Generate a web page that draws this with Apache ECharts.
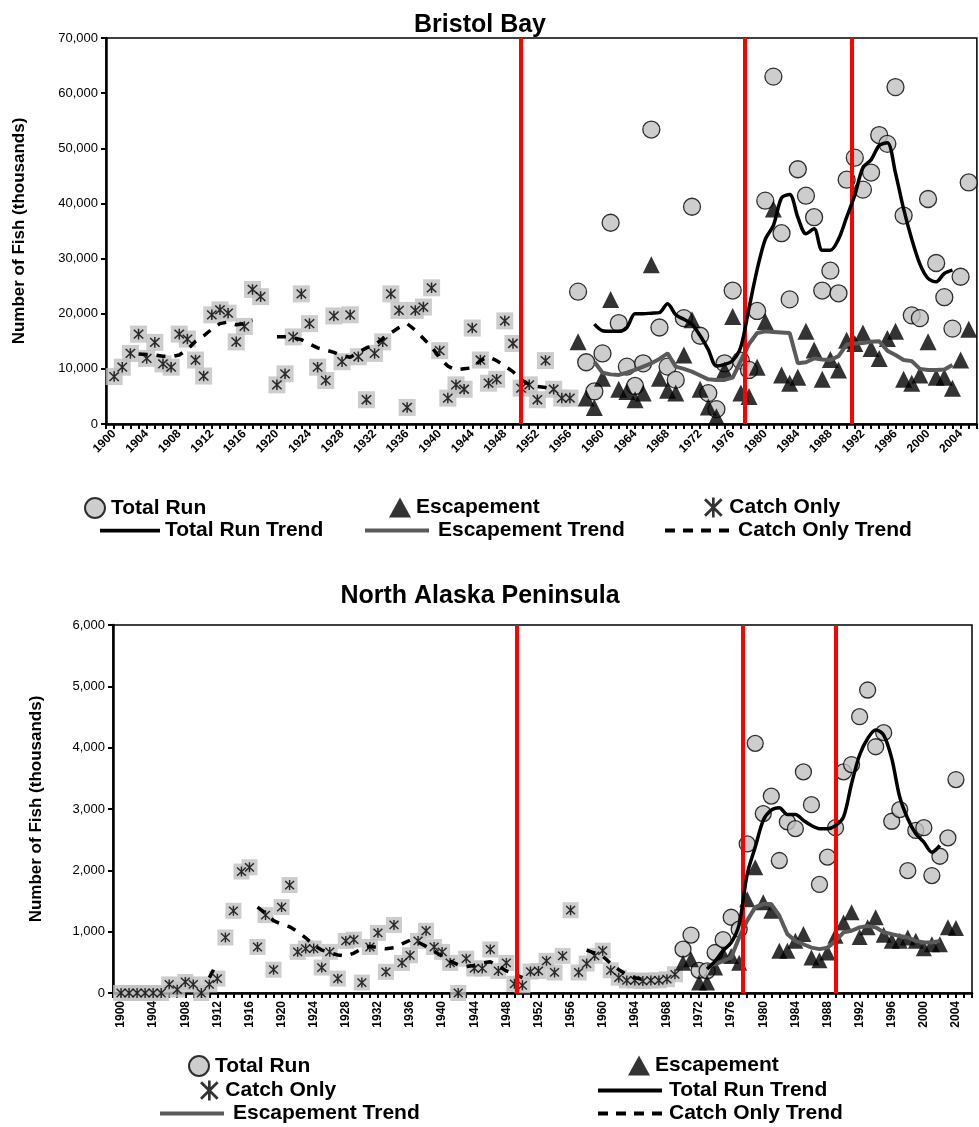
<!DOCTYPE html>
<html>
<head>
<meta charset="utf-8">
<script src="https://cdn.jsdelivr.net/npm/echarts@6/dist/echarts.min.js"></script>
<style>
  html, body { margin: 0; padding: 0; background: #fff; }
  #chart { width: 979px; height: 1127px; }
</style>
</head>
<body>
<div id="chart"></div>
<script>
// ---- Bristol Bay (thousands of fish) ----
// catch only, 1900..1956 (null = no value)
const bbCatch = [8600, 10300, 12800, 16300, 11900, 14800, 10900, 10300, 16300, 15400,
  11600, 8700, 19800, 20700, 20100, 14900, 17700, 24400, 23100, null,
  7100, 9100, 15800, 23600, 18200, 10300, 7900, 19600, 11300, 19800,
  12200, 4400, 12800, 14900, 23600, 20600, 3000, 20600, 21200, 24700,
  13300, 4700, 7100, 6300, 17400, 11600, 7400, 8100, 18700, 14600,
  6500, 7100, 4400, 11500, 6300, 4700, 4700]
// catch only trend, 1903..1954
const bbCatchTrend = [12700, 12600, 12500, 12300, 12200, 12500, 13500, 15000, 16000, 17200,
  18200, 18500, 18000, 18200, 18800, null, null, 15800, 15800, 15600,
  15300, 14500, 13800, 13400, 13000, 12400, 12100, 13000, 13800, 14300,
  15500, 16500, 17500, 18200, 17000, 15500, 14000, 12000, 10500, 9800,
  10000, 10200, 11500, 12200, 11500, 10500, 9500, 8000, 7200, 6800,
  6600, 6200]
// total run, 1957..2005
const bbTotal = [24000, 11200, 5900, 12800, 36500, 18300, 10400, 6900, 11000, 53400,
  17500, 10400, 8000, 19200, 39400, 16000, 5600, 2700, 11000, 24200,
  11500, 9800, 20500, 40500, 63000, 34600, 22600, 46200, 41400, 37500,
  24200, 27800, 23700, 44300, 48300, 42500, 45600, 52400, 50800, 61100,
  37800, 19700, 19200, 40800, 29200, 23000, 17300, 26700, 43800]
// escapement, 1957..2005
const bbEsc = [14900, 4700, 3000, 8300, 22600, 6300, 5900, 4400, 5600, 28900,
  8300, 6100, 5600, 12500, 18900, 6300, 3100, 1300, 9800, 19500,
  5600, 5000, 10300, 18600, 39000, 8900, 7400, 8500, 16800, 13400,
  8100, 11700, 9800, 15200, 14600, 16500, 13700, 11900, 15500, 16800,
  8100, 7400, 8900, 14900, 8500, 8500, 6500, 11600, 17200]
// trends, 1959..2003
const bbTotalTrend = [18100, 16900, 16800, 16800, 17500, 20000, 20000, 20100, 20200, 21800,
  19800, 19000, 18100, 16000, 13500, 10500, 10800, 11500, 14000, 21000,
  28000, 33500, 36000, 41000, 41600, 37500, 34500, 35400, 31500, 31500,
  33500, 37500, 41500, 46500, 47900, 50500, 51000, 45500, 39000, 33500,
  29000, 26400, 25800, 27300, 27900]
const bbEscTrend = [11300, 9300, 9000, 8900, 9300, 9800, 10400, 11000, 11800, 12800,
  10400, 10000, 9500, 8800, 8100, 8000, 8000, 8400, 11500, 14500,
  16500, 16800, 16700, 16600, 16500, 11000, 11200, 11900, 11700, 11600,
  12300, 14400, 14600, 14700, 14900, 15000, 13300, 12500, 11600, 11400,
  10000, 9800, 9800, 9900, 10700]
const bbRegimeYears = [1949.9, 1977.5, 1990.6]

// ---- North Alaska Peninsula ----
// catch only, 1900..1969
const naCatch = [0, 0, 0, 0, 0, 0, 140, 55, 180, 140,
  0, 140, 235, 905, 1340, 1980, 2050, 750, 1270, 380,
  1400, 1760, 670, 725, 725, 415, 670, 235, 850, 870,
  170, 750, 980, 345, 1110, 490, 615, 850, 1015, 750,
  670, 490, 0, 560, 400, 400, 710, 360, 490, 150,
  125, 350, 360, 525, 335, 605, 1350, 335, 480, 605,
  690, 370, 250, 205, 205, 195, 205, 205, 225, 305]
// catch only trend, 1911..1966
const naCatchTrend = [250, 500, null, null, null, null, 1400, 1300, 1180, 1120,
  1080, 1000, 900, 780, 700, 660, 620, 600, 650, 720,
  760, 740, 720, 740, 800, 860, 830, 760, 680, 600,
  520, 460, 430, 450, 490, 510, 440, 360, 310, 250,
  null, null, null, null, null, null, null, 700, 650, 600,
  480, 380, 300, 250, 220, 210]
// total run and escapement, 1970..2004
const naTotal = [715, 945, 370, 360, 660, 870, 1235, 1040, 2430, 4070,
  2925, 3210, 2160, 2790, 2680, 3605, 3070, 1770, 2215, 2695,
  3605, 3725, 4505, 4940, 4015, 4245, 2800, 2990, 1995, 2650,
  2695, 1915, 2230, 2530, 3480]
const naEsc = [495, 550, 170, 170, 415, 630, 605, 495, 1530, 2050,
  1480, 1340, 690, 690, 850, 960, 580, 535, 660, 935,
  1150, 1315, 915, 1070, 1235, 950, 850, 850, 905, 850,
  730, 795, 795, 1070, 1060]
// trends, 1973..2002
const naTotalTrend = [390, 520, 690, 820, 1120, 1940, 2380, 2815, 2980, 3020,
  2910, 2910, 2815, 2730, 2680, 2680, 2730, 2870, 3415, 3880,
  4150, 4290, 4205, 3825, 3195, 2840, 2595, 2460, 2295, 2405]
const naEscTrend = [440, 470, 520, 580, 905, 1180, 1400, 1450, 1450, 1260,
  960, 850, 795, 740, 715, 740, 850, 990, 1015, 1070,
  1095, 1070, 990, 960, 930, 905, 850, 825, 825, 850]
const naRegimeYears = [1949.3, 1977.4, 1989.0]

function pairs(startYear, values) {
  return values.map((v, i) => [startYear + i, v])
}

const asterisk = 'path://M-0.8,-6L0.8,-6L0.8,6L-0.8,6Z M-5.6,-4.4L-4.4,-5.6L5.6,4.4L4.4,5.6Z M4.4,-5.6L5.6,-4.4L-4.4,5.6L-5.6,4.4Z'
const solidIcon = 'path://M0,0L64,0L64,4L0,4Z'
const dashIcon = 'path://M0,0h10v4h-10z M18,0h10v4h-10z M36,0h10v4h-10z M54,0h10v4h-10z'
const font = 'Liberation Sans, Arial, sans-serif'

function markerSeries(gi, total, totStart, esc, escStart, cat, catStart, size) {
  return [
    { name: 'Catch Only', type: 'scatter', xAxisIndex: gi, yAxisIndex: gi, z: 4,
      symbol: asterisk, symbolSize: size * 0.62, itemStyle: { color: '#000' },
      data: pairs(catStart, cat).filter(p => p[1] !== null) },
    { name: 'Catch Only', type: 'scatter', xAxisIndex: gi, yAxisIndex: gi, z: 2,
      symbol: 'rect', symbolSize: size, itemStyle: { color: '#c0c0c0' },
      data: pairs(catStart, cat).filter(p => p[1] !== null) },
    { name: 'Total Run', type: 'scatter', xAxisIndex: gi, yAxisIndex: gi, z: 3,
      symbol: 'circle', symbolSize: size,
      itemStyle: { color: '#c0c0c0', borderColor: '#000', borderWidth: 1.3 },
      data: pairs(totStart, total) },
    { name: 'Escapement', type: 'scatter', xAxisIndex: gi, yAxisIndex: gi, z: 3,
      symbol: 'triangle', symbolSize: size, itemStyle: { color: '#000' },
      data: pairs(escStart, esc) }
  ]
}

function trendSeries(gi, tot, totStart, esc, escStart, cat, catStart, regimes) {
  return [
    { name: 'Total Run Trend', type: 'line', xAxisIndex: gi, yAxisIndex: gi, z: 5,
      symbol: 'none', smooth: 0.3, lineStyle: { color: '#000', width: 3.5 },
      itemStyle: { color: '#000' }, data: pairs(totStart, tot),
      markLine: { silent: true, symbol: 'none', label: { show: false },
        lineStyle: { color: '#ff0000', width: 4, type: 'solid' },
        data: regimes.map(y => ({ xAxis: y })) } },
    { name: 'Escapement Trend', type: 'line', xAxisIndex: gi, yAxisIndex: gi, z: 4,
      symbol: 'none', lineStyle: { color: '#5a5a5a', width: 4 },
      itemStyle: { color: '#5a5a5a' }, data: pairs(escStart, esc) },
    { name: 'Catch Only Trend', type: 'line', xAxisIndex: gi, yAxisIndex: gi, z: 4,
      symbol: 'none', connectNulls: false,
      lineStyle: { color: '#000', width: 3.5, type: [9, 9] },
      itemStyle: { color: '#000' }, data: pairs(catStart, cat) }
  ]
}

function xAxis(gi, rotate) {
  return {
    type: 'value', gridIndex: gi, min: 1899, max: 2006, interval: 1,
    axisLine: { lineStyle: { color: '#000', width: 2.5 } },
    axisTick: { length: 5, lineStyle: { color: '#000', width: 2 } },
    splitLine: { show: false },
    axisLabel: { rotate: rotate, color: '#000', fontWeight: 'bold', fontSize: 12,
      fontFamily: font, margin: 8, showMinLabel: true, showMaxLabel: true,
      formatter: v => (v % 4 === 0 ? String(v) : '') }
  }
}

function yAxis(gi, max, step, gap) {
  return {
    type: 'value', gridIndex: gi, min: 0, max: max, interval: step,
    name: 'Number of Fish (thousands)', nameLocation: 'middle', nameGap: gap,
    nameTextStyle: { color: '#000', fontWeight: 'bold', fontSize: 17, fontFamily: font },
    axisLine: { show: true, lineStyle: { color: '#000', width: 2.5 } },
    axisTick: { show: true, length: 5, lineStyle: { color: '#000', width: 2 } },
    splitLine: { show: false },
    axisLabel: { color: '#000', fontSize: 13, fontFamily: font,
      formatter: v => v.toLocaleString('en-US') }
  }
}

function legend(name, left, top, w, h, icon) {
  const item = icon ? { name: name, icon: icon } : name
  return { data: [item], left: left, top: top, itemWidth: w, itemHeight: h,
    itemGap: 4, padding: 0, selectedMode: false,
    textStyle: { color: '#000', fontWeight: 'bold', fontSize: 21, fontFamily: font } }
}

const chart = echarts.init(document.getElementById('chart'))
chart.setOption({
  animation: false,
  backgroundColor: '#fff',
  title: [
    { text: 'Bristol Bay', left: 475, top: 8, textAlign: 'center',
      textStyle: { fontSize: 25, fontWeight: 'bold', color: '#000', fontFamily: font } },
    { text: 'North Alaska Peninsula', left: 475, top: 579, textAlign: 'center',
      textStyle: { fontSize: 25, fontWeight: 'bold', color: '#000', fontFamily: font } }
  ],
  grid: [
    { left: 106, top: 38, width: 880, height: 386, show: true, borderColor: '#000', borderWidth: 1.5 },
    { left: 113, top: 625, width: 859, height: 368, show: true, borderColor: '#000', borderWidth: 1.5 }
  ],
  xAxis: [xAxis(0, 45), xAxis(1, 90)],
  yAxis: [yAxis(0, 70000, 10000, 78), yAxis(1, 6000, 1000, 68)],
  legend: [
    legend('Total Run', 84, 497, 22, 20),
    legend('Escapement', 389, 497, 22, 20),
    legend('Catch Only', 704, 497, 22, 20),
    legend('Total Run Trend', 100, 520, 60, 4, solidIcon),
    legend('Escapement Trend', 365, 520, 72, 4, solidIcon),
    legend('Catch Only Trend', 665, 520, 72, 4, dashIcon),
    legend('Total Run', 188, 1055, 22, 20),
    legend('Escapement', 628, 1055, 22, 20),
    legend('Catch Only', 200, 1080, 22, 20),
    legend('Total Run Trend', 598, 1080, 68, 4, solidIcon),
    legend('Escapement Trend', 160, 1103, 72, 4, solidIcon),
    legend('Catch Only Trend', 598, 1103, 68, 4, dashIcon)
  ],
  series: [
    ...trendSeries(0, bbTotalTrend, 1959, bbEscTrend, 1959, bbCatchTrend, 1903, bbRegimeYears),
    ...markerSeries(0, bbTotal, 1957, bbEsc, 1957, bbCatch, 1900, 17),
    ...trendSeries(1, naTotalTrend, 1973, naEscTrend, 1973, naCatchTrend, 1911, naRegimeYears),
    ...markerSeries(1, naTotal, 1970, naEsc, 1970, naCatch, 1900, 16)
  ]
})
</script>
</body>
</html>
